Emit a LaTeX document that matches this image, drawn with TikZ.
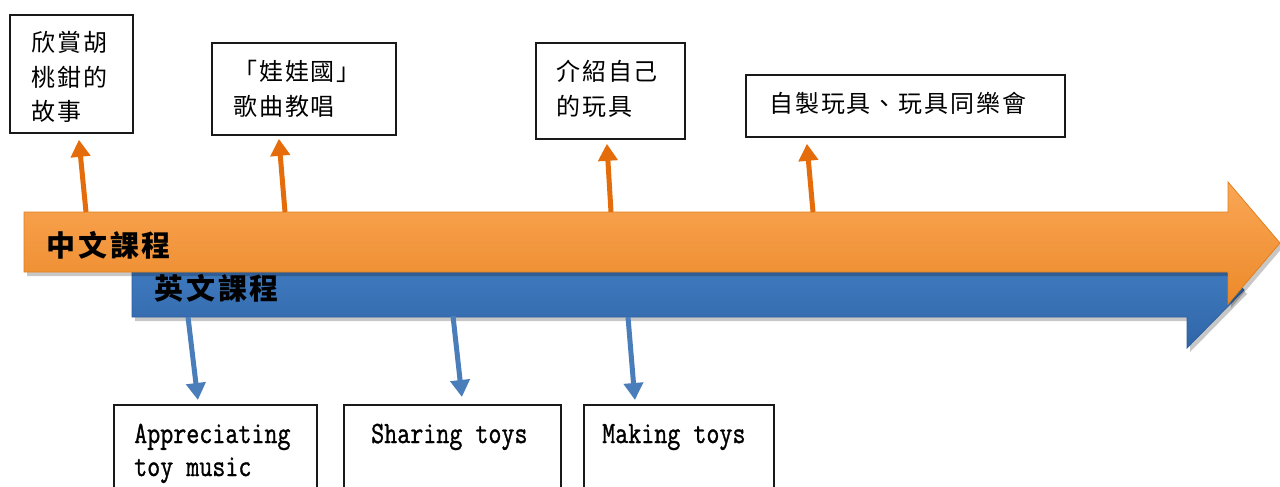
\documentclass[tikz,border=0pt]{standalone}
\usepackage{fontspec}
\usetikzlibrary{arrows.meta,calc}
\newfontfamily\cjk[LetterSpace=8]{Noto Sans CJK TC}
\newfontfamily\cjkb[LetterSpace=10]{Noto Sans CJK TC}
\newfontfamily\enmono[FakeBold=1.2]{Latin Modern Mono}
\newcommand{\tallen}[1]{\scalebox{1}[1.22]{#1}}
\definecolor{oline}{HTML}{E46C0A}
\definecolor{bline}{HTML}{4A7EBB}
\definecolor{oTop}{HTML}{FAA655}
\definecolor{oMid}{HTML}{F8952F}
\definecolor{oBot}{HTML}{EC8A2A}
\definecolor{oEdge}{HTML}{E0801F}
\definecolor{bTop}{HTML}{4682C8}
\definecolor{bMid}{HTML}{3B77BF}
\definecolor{bBot}{HTML}{3066A8}
\definecolor{bEdge}{HTML}{2E5F9E}
\begin{document}
\begin{tikzpicture}[x=1pt,y=-1pt,
  box/.style={draw=black!90,line width=1.8pt,fill=white,inner sep=0pt,anchor=north west},
  zh/.style={anchor=base west,inner sep=0pt,font=\cjk\fontsize{24}{24}\selectfont},
  en/.style={anchor=base west,inner sep=0pt,font=\enmono\fontsize{25.3}{25.3}\selectfont},
  lab/.style={anchor=base west,inner sep=0pt,font=\cjkb\bfseries\fontsize{29}{29}\selectfont},
  oarr/.style={draw=oline,line width=5pt,-{Triangle[width=19pt,length=17pt]}},
  barr/.style={draw=bline,line width=5pt,-{Triangle[width=19pt,length=17pt]}},
  shad/.style={fill=black,opacity=0.22}]
\clip (0,0) rectangle (1280,487);
\fill[white] (0,0) rectangle (1280,487);

% boxes
\node[box,minimum width=123pt,minimum height=118pt] (b1) at (9,14) {};
\node[box,minimum width=184pt,minimum height=92pt] (b2) at (211,42) {};
\node[box,minimum width=149pt,minimum height=96pt] (b3) at (535,42) {};
\node[box,minimum width=319pt,minimum height=62pt] (b4) at (745,74) {};
\node[box,minimum width=203pt,minimum height=100pt] (b5) at (113,404) {};
\node[box,minimum width=217pt,minimum height=100pt] (b6) at (343,404) {};
\node[box,minimum width=190pt,minimum height=100pt] (b7) at (583,404) {};

% texts
\node[zh] (t1a) at (31,52) {欣賞胡};
\node[zh] (t1b) at (31,87) {桃鉗的};
\node[zh] (t1c) at (31,121) {故事};
\node[zh] (t2a) at (233,81) {「娃娃國」};
\node[zh] (t2b) at (233,115) {歌曲教唱};
\node[zh] (t3a) at (556,81) {介紹自己};
\node[zh] (t3b) at (556,115) {的玩具};
\node[zh] (t4a) at (769,112) {自製玩具、玩具同樂會};
\node[en] (t5a) at (134,443) {\tallen{Appreciating}};
\node[en] (t5b) at (134,476) {\tallen{toy music}};
\node[en] (t6a) at (371,443) {\tallen{Sharing toys}};
\node[en] (t7a) at (602,443) {\tallen{Making toys}};

% blue arrow
\fill[shad] (135,266) -- (1190,266) -- (1190,237) -- (1247,294) -- (1190,352) -- (1190,321) -- (135,321) -- cycle;
\path[top color=bTop,middle color=bMid,bottom color=bBot,draw=bEdge,line width=0.8pt]
  (132,262) -- (1187,262) -- (1187,233) -- (1244,290) -- (1187,348) -- (1187,317) -- (132,317) -- cycle;
% orange arrow
\fill[shad] (27,216) -- (1231,216) -- (1231,186) -- (1283,247) -- (1231,308) -- (1231,276) -- (27,276) -- cycle;
\path[top color=oTop,middle color=oMid,bottom color=oBot,draw=oEdge,line width=0.8pt]
  (24,212) -- (1228,212) -- (1228,182) -- (1280,243) -- (1228,304) -- (1228,272) -- (24,272) -- cycle;

\node[lab] (zhc) at (46,256.5) {中文課程};
\node[lab] (enc) at (154,299.5) {英文課程};

% connector anchors on the bars
\coordinate (o1) at (86,212);
\coordinate (o2) at (285,212);
\coordinate (o3) at (611,212);
\coordinate (o4) at (813,212);
\coordinate (u1) at (188,317);
\coordinate (u2) at (453,316);
\coordinate (u3) at (628,317);

\draw[oarr] (o1) -- ($(b1.south)+(7.5,6)$);
\draw[oarr] (o2) -- ($(b2.south)+(-25,3)$);
\draw[oarr] (o3) -- ($(b3.south)+(-3.5,4)$);
\draw[oarr] (o4) -- ($(b4.south)+(-98.5,6)$);
\draw[barr] (u1) -- ($(b5.north)+(-17.5,-4)$);
\draw[barr] (u2) -- ($(b6.north)+(9.5,-7)$);
\draw[barr] (u3) -- ($(b7.north)+(-44,-4)$);
\end{tikzpicture}
\end{document}
